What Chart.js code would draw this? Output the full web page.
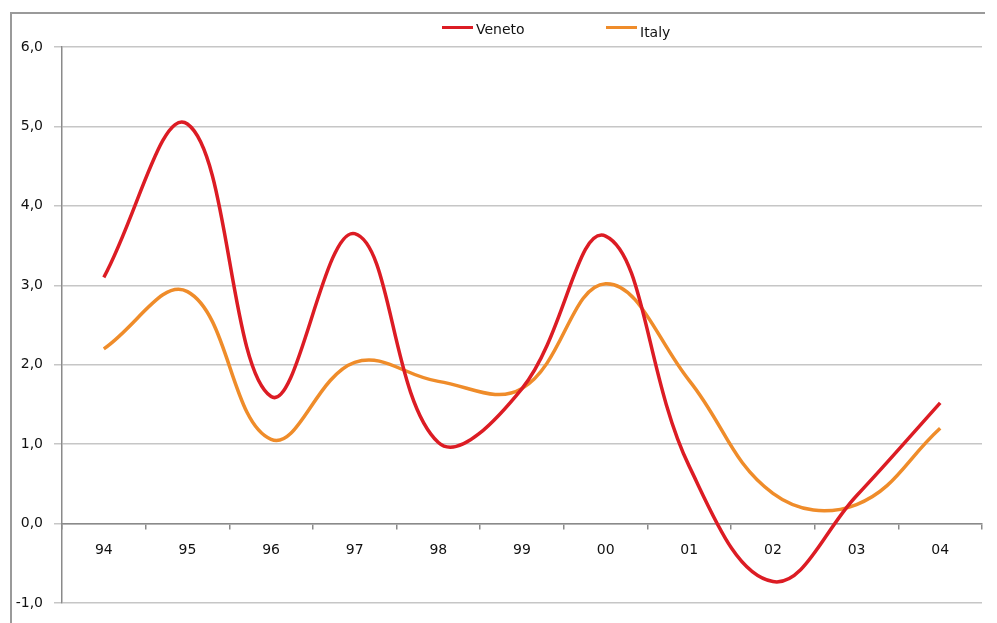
<!DOCTYPE html>
<html>
<head>
<meta charset="utf-8">
<script src="https://cdn.jsdelivr.net/npm/chart.js@4.4.0/dist/chart.umd.min.js"></script>
<style>
html, body { margin: 0; padding: 0; background: #fff; }
body { width: 997px; height: 623px; position: relative; overflow: hidden; font-family: "DejaVu Sans", Verdana, sans-serif; }
#chart { position: absolute; left: 0; top: 0; }
.legend-text { position: absolute; font-size: 14px; color: #111; line-height: 14px; }
.legend-line { position: absolute; height: 3px; width: 31px; }
</style>
</head>
<body>
<canvas id="chart" width="997" height="623"></canvas>
<div class="legend-line" id="line0" style="left:442px; top:26px;"></div>
<div class="legend-text" id="text0" style="left:476px; top:22px;"></div>
<div class="legend-line" id="line1" style="left:606px; top:26px;"></div>
<div class="legend-text" id="text1" style="left:640px; top:25px;"></div>
<script>
const years = ['94', '95', '96', '97', '98', '99', '00', '01', '02', '03', '04'];
const veneto = [3.1, 5.03, 1.6, 3.65, 1.02, 1.7, 3.62, 0.72, -0.73, 0.35, 1.52];
const italy = [2.2, 2.92, 1.06, 2.03, 1.79, 1.7, 3.02, 1.8, 0.38, 0.24, 1.2];
const seriesNames = ['Veneto', 'Italy'];
const seriesColors = ['#dc1c24', '#ef8c2a'];

// legend as plain html text
seriesNames.forEach((name, i) => {
    document.getElementById('text' + i).textContent = name;
    document.getElementById('line' + i).style.background = seriesColors[i];
});

// outer frame of the chart object (top and left edges only are in view)
const framePlugin = {
    id: 'frame',
    beforeDraw(chart) {
        const c = chart.ctx;
        c.save();
        c.strokeStyle = '#9a9a9a';
        c.lineWidth = 2;
        c.beginPath();
        c.moveTo(11, chart.height);
        c.lineTo(11, 13);
        c.lineTo(985, 13);
        c.stroke();
        c.restore();
    }
};

const tickFont = { family: 'DejaVu Sans', size: 14 };

const ctx = document.getElementById('chart').getContext('2d');
const chart = new Chart(ctx, {
    type: 'line',
    data: {
        labels: years,
        datasets: [
            { label: seriesNames[0], data: veneto, borderColor: seriesColors[0], borderWidth: 3.5, pointRadius: 0, tension: 0.4, fill: false },
            { label: seriesNames[1], data: italy, borderColor: seriesColors[1], borderWidth: 3.5, pointRadius: 0, tension: 0.4, fill: false }
        ]
    },
    options: {
        responsive: false,
        animation: false,
        devicePixelRatio: 1,
        layout: { padding: { top: 47, right: 15, bottom: 20, left: 0 } },
        plugins: {
            legend: { display: false },
            tooltip: { enabled: false }
        },
        scales: {
            x: {
                type: 'category',
                offset: true,
                position: { y: 0 },
                afterFit: scale => { scale.height = 0; },
                grid: { drawOnChartArea: false, offset: true, tickLength: 5, color: '#8a8a8a', lineWidth: 1.5 },
                border: { color: '#8a8a8a', width: 1.5 },
                ticks: { color: '#111', font: tickFont, padding: 13, maxRotation: 0 }
            },
            y: {
                min: -1,
                max: 6,
                afterFit: scale => { scale.width = 62; },
                grid: { color: '#c6c6c6', lineWidth: 1.5, tickLength: 8 },
                border: { color: '#8a8a8a', width: 1.5 },
                ticks: {
                    stepSize: 1,
                    color: '#111',
                    font: tickFont,
                    padding: 11,
                    callback: v => v.toFixed(1).replace('.', ',')
                }
            }
        }
    },
    plugins: [framePlugin]
});
</script>
</body>
</html>
